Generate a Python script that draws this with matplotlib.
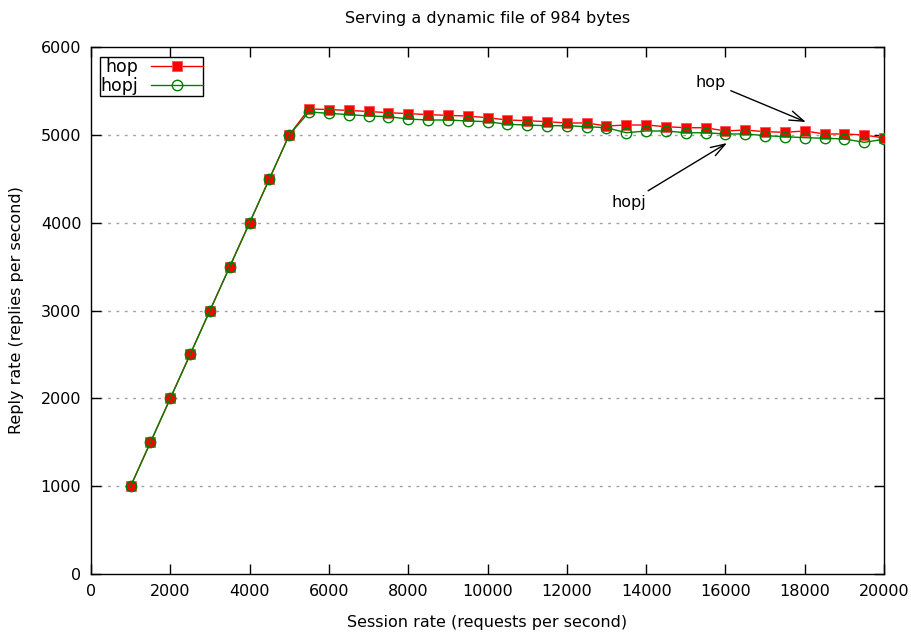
import matplotlib
matplotlib.use("Agg")
import matplotlib.pyplot as plt

x_rate = [1000, 1500, 2000, 2500, 3000, 3500, 4000, 4500, 5000,
          5500, 6000, 6500, 7000, 7500, 8000, 8500, 9000, 9500, 10000,
          10500, 11000, 11500, 12000, 12500, 13000, 13500, 14000, 14500, 15000,
          15500, 16000, 16500, 17000, 17500, 18000, 18500, 19000, 19500, 20000]
hop = [1000, 1500, 2000, 2500, 3000, 3500, 4000, 4500, 5000,
       5295, 5288, 5278, 5266, 5252, 5242, 5230, 5222, 5214, 5195,
       5169, 5161, 5150, 5135, 5135, 5101, 5112, 5112, 5093, 5081,
       5081, 5044, 5055, 5036, 5029, 5044, 5010, 5010, 4998, 4965]
hopj = [1000, 1500, 2000, 2500, 3000, 3500, 4000, 4500, 5000,
        5260, 5245, 5230, 5215, 5207, 5180, 5169, 5169, 5158, 5150,
        5120, 5112, 5104, 5104, 5093, 5081, 5024, 5044, 5044, 5024,
        5024, 5010, 5010, 4991, 4979, 4968, 4961, 4953, 4915, 4950]

x_ticks = [0, 2000, 4000, 6000, 8000, 10000, 12000, 14000, 16000, 18000, 20000]
y_ticks = [0, 1000, 2000, 3000, 4000, 5000, 6000]

fig = plt.figure(figsize=(9.11, 6.32), dpi=100)
ax = fig.add_axes([0.0999, 0.0918, 0.8705, 0.8338])

for yv in y_ticks[1:-1]:
    ax.axhline(yv, color="#a0a0a0", lw=1.0, ls=(0, (2, 4)), zorder=0)

ax.plot(x_rate, hop, color="#ff0000", lw=1.0, marker="s", markersize=7.5,
        markerfacecolor="#ff0000", markeredgecolor="#ff5050", markeredgewidth=0.6,
        label="hop", zorder=3)
ax.plot(x_rate, hopj, color="#008000", lw=1.0, marker="o", markersize=7.5,
        markerfacecolor="none", markeredgecolor="#008000", markeredgewidth=1.0,
        label="hopj", zorder=4)

ax.set_xlim(0, 20000)
ax.set_ylim(0, 6000)
ax.set_xticks(x_ticks)
ax.set_yticks(y_ticks)
ax.tick_params(direction="in", top=True, right=True, length=7, width=1, labelsize=11.5, pad=7)
for s in ax.spines.values():
    s.set_linewidth(1.0)

ax.set_title("Serving a dynamic file of 984 bytes", fontsize=11.5, pad=17)
ax.set_xlabel("Session rate (requests per second)", fontsize=11.5, labelpad=12)
ax.set_ylabel("Reply rate (replies per second)", fontsize=11.5, labelpad=12)

leg = ax.legend(loc="upper left", bbox_to_anchor=(0.011, 0.981), markerfirst=False,
                fontsize=12.5, frameon=True, fancybox=False, edgecolor="black",
                framealpha=1, borderpad=0.05, handlelength=3.0, handletextpad=0.7,
                labelspacing=0.05, borderaxespad=0.0)
leg.get_frame().set_linewidth(1.0)

arrow_style = dict(arrowstyle="->,head_length=0.9,head_width=0.3", color="black",
                   lw=1.0, shrinkA=2, shrinkB=0)
ax.annotate("hop", xy=(18030, 5146), xytext=(16000, 5600),
            fontsize=11.5, ha="right", va="center", arrowprops=arrow_style)
ax.annotate("hopj", xy=(16040, 4907), xytext=(14000, 4230),
            fontsize=11.5, ha="right", va="center", arrowprops=arrow_style)

fig.savefig("out.png", dpi=100)
